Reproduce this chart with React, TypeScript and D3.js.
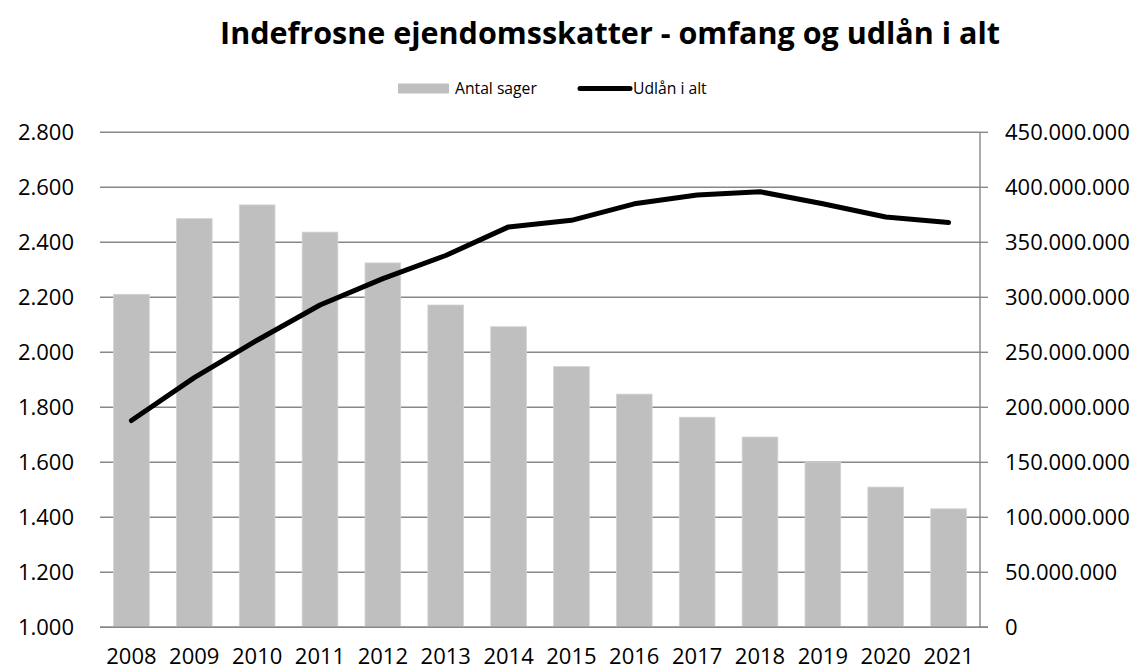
import React from "react";
import * as d3 from "d3";

const years = ["2008","2009","2010","2011","2012","2013","2014","2015","2016","2017","2018","2019","2020","2021"];
const antalSager = [2211, 2486, 2536, 2437, 2325, 2172, 2093, 1948, 1848, 1764, 1692, 1600, 1510, 1431];
const udlaan = [188e6, 227e6, 261e6, 293e6, 317e6, 338e6, 364e6, 370e6, 385e6, 393e6, 396e6, 385e6, 373e6, 368e6];
const leftTicks = [1000, 1200, 1400, 1600, 1800, 2000, 2200, 2400, 2600, 2800];
const rightTicks = [0, 50e6, 100e6, 150e6, 200e6, 250e6, 300e6, 350e6, 400e6, 450e6];

const W = 1142, H = 671;
const L = 100, R = 980, T = 132.3, B = 627.3;
const FONT = "'Open Sans', sans-serif";

const fmt = (v: number) => {
  if (v === 0) return "0";
  return Math.round(v).toString().replace(/\B(?=(\d{3})+(?!\d))/g, ".");
};

export default function App() {
  const x = d3.scaleBand<string>().domain(years).range([L, R]).paddingInner(0.432).paddingOuter(0.216);
  const yL = d3.scaleLinear().domain([1000, 2800]).range([B, T]);
  const yR = d3.scaleLinear().domain([0, 450e6]).range([B, T]);
  const line = d3.line<number>()
    .x((_, i) => (x(years[i]) as number) + x.bandwidth() / 2)
    .y((d) => yR(d));

  return (
    <svg width={W} height={H} style={{ position: "absolute", left: 0, top: 0, background: "#fff" }}>
      <text x={610} y={44} textAnchor="middle" fontFamily={FONT} fontWeight="bold" fontSize={30.5} fill="#000">
        Indefrosne ejendomsskatter - omfang og udlån i alt
      </text>
      {/* legend */}
      <rect x={398} y={83.5} width={51} height={10} fill="#bfbfbf" />
      <text x={455} y={94} fontFamily={FONT} fontSize={15.7} fill="#000">Antal sager</text>
      <line x1={580} x2={630} y1={88.5} y2={88.5} stroke="#000" strokeWidth={5} strokeLinecap="round" />
      <text x={633} y={94} fontFamily={FONT} fontSize={15.7} fill="#000">Udlån i alt</text>

      {/* gridlines */}
      {leftTicks.map((t) => (
        <line key={"g" + t} x1={L} x2={t === 1000 ? 988 : R} y1={yL(t)} y2={yL(t)} stroke="#888" strokeWidth={1.4} />
      ))}
      {/* right axis */}
      <line x1={R} x2={R} y1={T} y2={B} stroke="#888" strokeWidth={1.4} />
      {rightTicks.map((t) => (
        <line key={"rt" + t} x1={R} x2={988} y1={yR(t)} y2={yR(t)} stroke="#888" strokeWidth={1.4} />
      ))}

      {/* bars */}
      {antalSager.map((v, i) => (
        <rect key={years[i]} x={x(years[i])} y={yL(v)} width={x.bandwidth()} height={yL(1000) - yL(v)} fill="#bfbfbf" stroke="#d4d4d4" strokeWidth={0.8} />
      ))}
      {/* redraw bottom axis */}
      <line x1={L} x2={988} y1={B} y2={B} stroke="#888" strokeWidth={1.4} />

      {/* line */}
      <path d={line(udlaan) || ""} fill="none" stroke="#000" strokeWidth={5} strokeLinecap="round" strokeLinejoin="round" />

      {/* left labels */}
      {leftTicks.map((t) => (
        <text key={"l" + t} x={74} y={yL(t)} dy="0.36em" textAnchor="end" fontFamily={FONT} fontSize={22} fill="#000">{fmt(t)}</text>
      ))}
      {/* right labels */}
      {rightTicks.map((t) => (
        <text key={"r" + t} x={1005} y={yR(t)} dy="0.36em" textAnchor="start" fontFamily={FONT} fontSize={22} fill="#000">{fmt(t)}</text>
      ))}
      {/* x labels */}
      {years.map((yv) => (
        <text key={"x" + yv} x={(x(yv) as number) + x.bandwidth() / 2} y={664} textAnchor="middle" fontFamily={FONT} fontSize={22} fill="#000">{yv}</text>
      ))}
    </svg>
  );
}
